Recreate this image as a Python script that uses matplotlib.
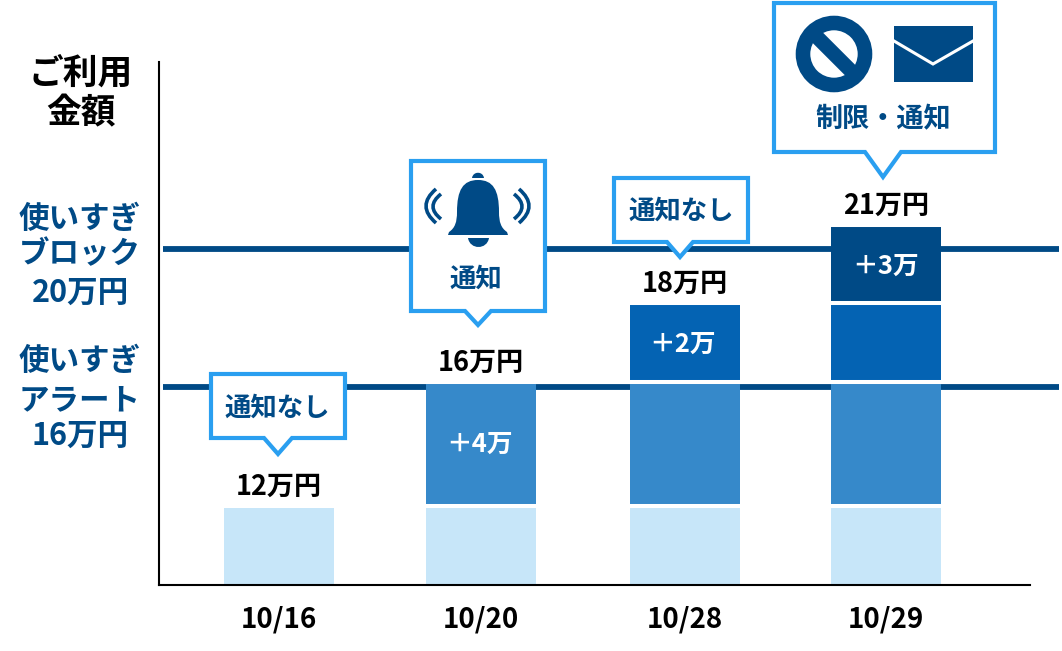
import numpy as np
import matplotlib
matplotlib.use('Agg')
import matplotlib.pyplot as plt
from matplotlib.patches import Polygon, Circle, Rectangle, PathPatch
from matplotlib.path import Path
from matplotlib.transforms import offset_copy

plt.rcParams['font.family'] = ['Noto Sans CJK JP', 'DejaVu Sans']

# data
dates = ['10/16', '10/20', '10/28', '10/29']
base_use = [12, 12, 12, 12]
step_4 = [0, 4, 4, 4]
step_2 = [0, 0, 2, 2]
step_3 = [0, 0, 0, 3]
alert_limit = 16
block_limit = 20

# the picture is not to scale, so the y axis is piecewise
scale_values = [0, 12, 16, 18, 20, 21, 26]
scale_pixels = [0, 79, 203, 282, 336, 360, 523]

DARK = '#004a86'
BORDER = '#2a9ff0'
colors = ['#c7e6f9', '#3689ca', '#0463b3', DARK]

W, H = 1062, 651
fig = plt.figure(figsize=(W / 100, H / 100), dpi=100)
ax = fig.add_axes([159 / W, (H - 585) / H, 900 / W, 523 / H])

px = 202.3  # pixels between two dates
ax.set_xlim(-120 / px, 780 / px)
ax.set_yscale('function', functions=(
    lambda v: np.interp(v, scale_values, scale_pixels),
    lambda p: np.interp(p, scale_pixels, scale_values)))
ax.set_ylim(0, 26)

x = np.array([0, 1, 2.005, 3.0])
bar_w = 110 / px
bottom = np.zeros(len(dates))
for vals, col in zip([base_use, step_4, step_2, step_3], colors):
    vals = np.array(vals)
    keep = vals > 0
    ax.bar(x[keep], vals[keep], bottom=bottom[keep], width=bar_w, color=col, zorder=3)
    bottom = bottom + vals
    # white gap on top of each block
    ax.hlines(bottom[keep], x[keep] - bar_w / 2 - 0.005, x[keep] + bar_w / 2 + 0.005,
              color='white', linewidth=2.9, zorder=4)
totals = bottom

# limit lines, the alert one sits a little under the bar top in the original
ax.hlines(block_limit, -116 / px, 780 / px, color=DARK, linewidth=4.2, zorder=2)
shifted = offset_copy(ax.transData, fig=fig, y=-5, units='dots')
ax.plot([-116 / px, 780 / px], [alert_limit, alert_limit], color=DARK, linewidth=4.2,
        transform=shifted, zorder=2, solid_capstyle='butt')

for xi, t in zip(x, totals):
    ax.annotate(f'{int(t)}万円', (xi, t), xytext=(0, 14), textcoords='offset points',
                ha='center', va='center', fontsize=19.5, fontweight='bold', color='black', zorder=6)

# labels inside the bars
ax.text(x[1] - 0.01, 14, f'＋{step_4[1]}万', ha='center', va='center', fontsize=18.5, fontweight='bold', color='white', zorder=5)
ax.text(x[2] - 0.01, 16.95, f'＋{step_2[2]}万', ha='center', va='center', fontsize=18.5, fontweight='bold', color='white', zorder=5)
ax.text(x[3], 19.35, f'＋{step_3[3]}万', ha='center', va='center', fontsize=18.5, fontweight='bold', color='white', zorder=5)

ax.set_xticks(x)
ax.set_xticklabels(dates, fontsize=20, fontweight='bold')
ax.tick_params(axis='x', length=0, pad=15)
ax.set_yticks([])
ax.minorticks_off()
ax.tick_params(axis='y', which='both', left=False)
for s in ['top', 'right']:
    ax.spines[s].set_visible(False)
ax.spines['left'].set_linewidth(1.5)
ax.spines['bottom'].set_linewidth(1.5)
ax.spines['bottom'].set_bounds(-120 / px, 751 / px)
ax.spines['left'].set_zorder(7)
ax.spines['bottom'].set_zorder(7)

# overlay in pixels for the callouts, icons and side labels
ov = fig.add_axes([0, 0, 1, 1])
ov.set_xlim(0, W)
ov.set_ylim(H, 0)
ov.axis('off')
ov.patch.set_alpha(0)


def callout(left, right, top, bot, tip_x, tip_y, half):
    pts = [(left, top), (right, top), (right, bot), (tip_x + half, bot),
           (tip_x, tip_y), (tip_x - half, bot), (left, bot)]
    ov.add_patch(Polygon(pts, closed=True, facecolor='white', edgecolor=BORDER,
                         linewidth=3, joinstyle='miter', zorder=2))


callout(211, 345, 374, 438, 278, 454, 14)
callout(411, 545, 161, 311, 478, 325, 13)
callout(614, 748, 178, 242, 680, 257, 13)
callout(774, 995, 3, 152, 883, 177, 18)

ov.text(277, 408, '通知なし', ha='center', va='center', fontsize=19, fontweight='bold', color=DARK, zorder=3)
ov.text(681, 211, '通知なし', ha='center', va='center', fontsize=19, fontweight='bold', color=DARK, zorder=3)
ov.text(476, 279, '通知', ha='center', va='center', fontsize=19, fontweight='bold', color=DARK, zorder=3)
ov.text(883, 119, '制限・通知', ha='center', va='center', fontsize=19.5, fontweight='bold', color=DARK, zorder=3)

# bell
M, L, C4 = Path.MOVETO, Path.LINETO, Path.CURVE4
bell = Path([(448, 235), (449, 232),
             (455, 228), (457, 222), (457, 212),
             (457, 190), (463, 180), (478, 180),
             (493, 180), (499, 190), (499, 212),
             (499, 222), (501, 228), (507, 232),
             (508, 235), (448, 235)],
            [M, L, C4, C4, C4, C4, C4, C4, C4, C4, C4, C4, C4, C4, L, L])
ov.add_patch(PathPatch(bell, facecolor=DARK, edgecolor='none', zorder=4))
ov.add_patch(PathPatch(Path([(472, 178), (473, 171), (483, 171), (484, 178), (472, 178)], [M, C4, C4, C4, L]),
                       facecolor=DARK, edgecolor='none', zorder=3))
ov.add_patch(PathPatch(Path([(468, 238), (470, 250), (487, 250), (489, 238), (468, 238)], [M, C4, C4, C4, L]),
                       facecolor=DARK, edgecolor='none', zorder=3))
for (x0, y0, y1, ctrl) in [(436, 189, 223, 416), (441, 194, 219, 425),
                           (519, 189, 223, 539), (514, 194, 219, 530)]:
    ov.add_patch(PathPatch(Path([(x0, y0), (ctrl, (y0 + y1) / 2), (x0, y1)],
                                [Path.MOVETO, Path.CURVE3, Path.CURVE3]),
                           facecolor='none', edgecolor=DARK, linewidth=2.6, zorder=3))

# no entry sign
ov.add_patch(Circle((834, 54), 31, facecolor='white', edgecolor=DARK, linewidth=10.5, zorder=3))
ov.plot([814, 854], [34, 74], color=DARK, linewidth=10.5, solid_capstyle='butt', zorder=4)

# mail
ov.add_patch(Rectangle((894, 26), 79, 56, facecolor=DARK, edgecolor='none', zorder=3))
ov.plot([894, 933, 973], [41, 64, 41], color='white', linewidth=2.2, solid_joinstyle='miter', zorder=4)

# side labels
ov.text(81, 73, 'ご利用', ha='center', va='center', fontsize=25, fontweight='bold', color='black')
ov.text(81, 113, '金額', ha='center', va='center', fontsize=25, fontweight='bold', color='black')
for txt, yy in [('使いすぎ', 219), ('ブロック', 254), ('20万円', 293),
                ('使いすぎ', 361), ('アラート', 400), ('16万円', 436)]:
    ov.text(80, yy, txt, ha='center', va='center', fontsize=22, fontweight='bold', color=DARK)

fig.savefig('out.png', dpi=100)
